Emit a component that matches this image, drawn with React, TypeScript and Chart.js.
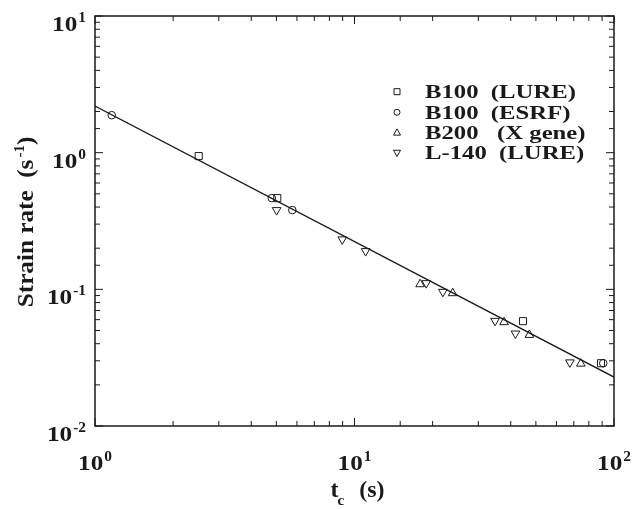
import React, { useEffect, useRef } from "react";
import { Chart, registerables } from "chart.js";

Chart.register(...registerables);

// ---- data ----
const lureB100X = [2.51, 5.04, 44.6, 89.1];
const lureB100Y = [0.944, 0.465, 0.0585, 0.0288];
const esrfB100X = [1.16, 4.8, 5.76, 90.9];
const esrfB100Y = [1.88, 0.465, 0.38, 0.0288];
const xgeneB200X = [17.9, 23.9, 37.7, 47.2, 74.5];
const xgeneB200Y = [0.109, 0.0937, 0.0575, 0.0464, 0.0286];
const lureL140X = [5.01, 8.97, 11.04, 18.9, 21.9, 34.8, 41.7, 67.6];
const lureL140Y = [0.38, 0.232, 0.1905, 0.111, 0.0959, 0.0588, 0.0475, 0.0292];
const fitX = [1, 100];
const fitY = [2.19, 0.0228];

const seriesLabels = ["B100  (LURE)", "B100  (ESRF)", "B200   (X gene)", "L-140  (LURE)"];
const xRange = [1, 100];
const yRange = [0.01, 10];
const xTitle = "t";
const xTitleSub = "c";
const xTitleRest = "(s)";
const yTitle = "Strain rate  (s";
const yTitleSup = "-1";
const yTitleEnd = ")";

const pts = (xs: number[], ys: number[]) => xs.map((x, i) => ({ x, y: ys[i] }));

const FONT = '"Liberation Serif", "Times New Roman", "DejaVu Serif", serif';
const INK = "#1a1a1a";

function txt(
  ctx: CanvasRenderingContext2D,
  s: string,
  x: number,
  y: number,
  size: number,
  sx: number,
  align: "left" | "right" | "center" = "left"
) {
  ctx.save();
  ctx.font = `bold ${size}px ${FONT}`;
  ctx.textBaseline = "alphabetic";
  ctx.textAlign = "left";
  const w = ctx.measureText(s).width * sx;
  const x0 = align === "left" ? x : align === "right" ? x - w : x - w / 2;
  ctx.translate(x0, y);
  ctx.scale(sx, 1);
  ctx.fillStyle = INK;
  ctx.fillText(s, 0, 0);
  ctx.restore();
  return w;
}

function measure(ctx: CanvasRenderingContext2D, s: string, size: number, sx: number) {
  ctx.save();
  ctx.font = `bold ${size}px ${FONT}`;
  const w = ctx.measureText(s).width * sx;
  ctx.restore();
  return w;
}

const BASE = 21;
const SUP = 14;
const TSX = 1.2;

function powLabel(ctx: CanvasRenderingContext2D, exp: number, x: number, y: number, align: "right" | "center") {
  const e = String(exp);
  const wb = measure(ctx, "10", BASE, TSX);
  const ws = measure(ctx, e, SUP, 1.1);
  const total = wb + ws + 1;
  const x0 = align === "right" ? x - total : x - total / 2;
  txt(ctx, "10", x0, y, BASE, TSX, "left");
  txt(ctx, e, x0 + wb + 1, y - 9, SUP, 1.1, "left");
}

function marker(ctx: CanvasRenderingContext2D, kind: number, x: number, y: number, r: number) {
  ctx.save();
  ctx.strokeStyle = INK;
  ctx.lineWidth = 1;
  ctx.beginPath();
  if (kind === 0) {
    ctx.rect(x - r, y - r, 2 * r, 2 * r);
  } else if (kind === 1) {
    ctx.arc(x, y, r, 0, Math.PI * 2);
  } else if (kind === 2) {
    ctx.moveTo(x, y - r * 1.1);
    ctx.lineTo(x + r, y + r * 0.7);
    ctx.lineTo(x - r, y + r * 0.7);
    ctx.closePath();
  } else {
    ctx.moveTo(x, y + r * 1.1);
    ctx.lineTo(x + r, y - r * 0.7);
    ctx.lineTo(x - r, y - r * 0.7);
    ctx.closePath();
  }
  ctx.stroke();
  ctx.restore();
}

const isMajor = (v: number) => Math.abs(Math.log10(v) - Math.round(Math.log10(v))) < 1e-9;

const paperPlugin = {
  id: "paper",
  afterDraw(chart: any) {
    const ctx: CanvasRenderingContext2D = chart.ctx;
    const { left, right, top, bottom } = chart.chartArea;
    const xs = chart.scales.x;
    const ys = chart.scales.y;

    // frame
    ctx.save();
    ctx.strokeStyle = INK;
    ctx.lineWidth = 1.5;
    ctx.strokeRect(left, top, right - left, bottom - top);

    // inward ticks on all four sides
    ctx.lineWidth = 1;
    ctx.beginPath();
    for (const t of xs.ticks) {
      const px = xs.getPixelForValue(t.value);
      const len = isMajor(t.value) ? 8 : 5;
      ctx.moveTo(px, bottom);
      ctx.lineTo(px, bottom - len);
      ctx.moveTo(px, top);
      ctx.lineTo(px, top + len);
    }
    for (const t of ys.ticks) {
      const py = ys.getPixelForValue(t.value);
      const len = isMajor(t.value) ? 8 : 5;
      ctx.moveTo(left, py);
      ctx.lineTo(left + len, py);
      ctx.moveTo(right, py);
      ctx.lineTo(right - len, py);
    }
    ctx.stroke();
    ctx.restore();

    // tick labels (powers of ten)
    for (const t of xs.ticks) {
      if (!isMajor(t.value)) continue;
      powLabel(ctx, Math.round(Math.log10(t.value)), xs.getPixelForValue(t.value), bottom + 44, "center");
    }
    for (const t of ys.ticks) {
      if (!isMajor(t.value)) continue;
      powLabel(ctx, Math.round(Math.log10(t.value)), left - 9, ys.getPixelForValue(t.value) + 15, "right");
    }

    // x title: t_c (s)
    {
      const cx = (left + right) / 2 + 3;
      const wt = measure(ctx, xTitle, 24, 1);
      const wc = measure(ctx, xTitleSub, 15, 1);
      const wr = measure(ctx, xTitleRest, 24, 1);
      const gap = 14;
      const total = wt + wc + gap + wr;
      const x0 = cx - total / 2;
      const by = 497;
      txt(ctx, xTitle, x0, by, 24, 1);
      txt(ctx, xTitleSub, x0 + wt - 1, by + 8, 15, 1);
      txt(ctx, xTitleRest, x0 + wt + wc + gap, by, 24, 1);
    }

    // y title (rotated)
    {
      ctx.save();
      ctx.translate(33, 222);
      ctx.rotate(-Math.PI / 2);
      const sx = 1.05;
      const w1 = measure(ctx, yTitle, 24, sx);
      const w2 = measure(ctx, yTitleSup, 15, 1);
      const w3 = measure(ctx, yTitleEnd, 24, sx);
      const total = w1 + w2 + w3 + 2;
      const x0 = -total / 2;
      txt(ctx, yTitle, x0, 0, 24, sx);
      txt(ctx, yTitleSup, x0 + w1 + 2, -9, 15, 1);
      txt(ctx, yTitleEnd, x0 + w1 + w2 + 2, 0, 24, sx);
      ctx.restore();
    }

    // legend
    const rows = [91.7, 112.3, 132.7, 152.7];
    chart.data.datasets.forEach((ds: any, i: number) => {
      if (i >= seriesLabels.length) return;
      marker(ctx, i, 397, rows[i], i >= 2 ? 3.5 : 3);
      txt(ctx, ds.label, 425, rows[i] + 6.5, 19, 1.3);
    });
  },
};

export default function App() {
  const ref = useRef<HTMLCanvasElement | null>(null);
  useEffect(() => {
    if (!ref.current) return;
    const common = {
      showLine: false,
      borderColor: INK,
      backgroundColor: "rgba(0,0,0,0)",
      pointBorderWidth: 1,
      pointBackgroundColor: "rgba(0,0,0,0)",
      pointBorderColor: INK,
    };
    const chart = new Chart(ref.current, {
      type: "scatter",
      data: {
        datasets: [
          { ...common, label: seriesLabels[0], data: pts(lureB100X, lureB100Y), pointStyle: "rect", pointRadius: 5 },
          { ...common, label: seriesLabels[1], data: pts(esrfB100X, esrfB100Y), pointStyle: "circle", pointRadius: 3.8 },
          { ...common, label: seriesLabels[2], data: pts(xgeneB200X, xgeneB200Y), pointStyle: "triangle", pointRadius: 5 },
          { ...common, label: seriesLabels[3], data: pts(lureL140X, lureL140Y), pointStyle: "triangle", pointRotation: 180, pointRadius: 5 },
          {
            label: "fit",
            data: pts(fitX, fitY),
            showLine: true,
            borderColor: INK,
            borderWidth: 1.3,
            pointRadius: 0,
            fill: false,
          } as any,
        ],
      },
      options: {
        responsive: false,
        animation: false,
        layout: { padding: { left: 95, top: 16, right: 29, bottom: 83 } },
        plugins: { legend: { display: false }, tooltip: { enabled: false } },
        scales: {
          x: { type: "logarithmic", min: xRange[0], max: xRange[1], display: false, ticks: { autoSkip: false } },
          y: { type: "logarithmic", min: yRange[0], max: yRange[1], display: false, ticks: { autoSkip: false } },
        },
      },
      plugins: [paperPlugin],
    } as any);
    return () => chart.destroy();
  }, []);
  return (
    <div style={{ position: "fixed", left: 0, top: 0, width: 643, height: 509, background: "#fff" }}>
      <canvas ref={ref} width={643} height={509} style={{ display: "block" }} />
    </div>
  );
}
